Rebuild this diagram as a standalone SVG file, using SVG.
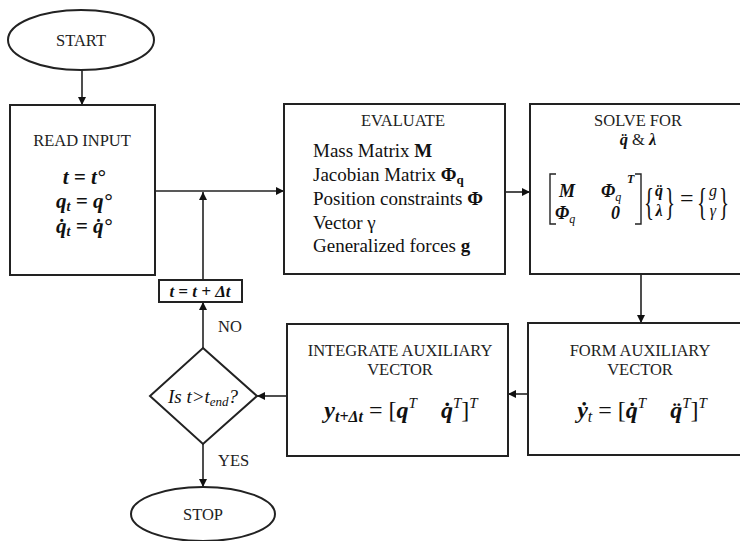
<svg xmlns="http://www.w3.org/2000/svg" width="740" height="541" viewBox="0 0 740 541">
<defs>
<marker id="arr" viewBox="0 0 10 10" refX="10" refY="5" markerWidth="8" markerHeight="8" markerUnits="userSpaceOnUse" orient="auto">
<path d="M0,0 L10,5 L0,10 z" fill="#111"/>
</marker>
</defs>
<style>
.box{fill:#fff;stroke:#222;stroke-width:2}
.lbl{font-family:"Liberation Serif","Times New Roman",serif;font-size:16.5px;fill:#222}
.txt{font-family:"Liberation Serif","Times New Roman",serif;fill:#111}
.m{font-family:"Liberation Serif","Times New Roman",serif;font-weight:bold;font-style:italic;fill:#111}
.conn{stroke:#222;stroke-width:1.6;fill:none;marker-end:url(#arr)}
</style>
<rect width="740" height="541" fill="#fff"/>

<g id="connectors">
<line class="conn" x1="82" y1="70" x2="82" y2="105"/>
<line class="conn" x1="155" y1="191" x2="284" y2="191"/>
<line class="conn" x1="203" y1="280" x2="203" y2="192"/>
<line class="conn" x1="505" y1="192" x2="530" y2="192"/>
<line class="conn" x1="641" y1="274" x2="641" y2="323"/>
<line class="conn" x1="528" y1="394" x2="508" y2="394"/>
<line class="conn" x1="287" y1="396" x2="257" y2="396"/>
<line class="conn" x1="203" y1="348" x2="203" y2="302"/>
<line class="conn" x1="203" y1="444" x2="203" y2="487"/>
<text class="lbl" x="218" y="332">NO</text>
<text class="lbl" x="218" y="466">YES</text>
</g>

<g id="start">
<ellipse class="box" cx="81" cy="40" rx="73" ry="30"/>
<text class="lbl" x="81" y="46" text-anchor="middle">START</text>
</g>

<g id="read-input">
<rect class="box" x="10" y="105" width="145" height="170"/>
<text class="lbl" x="82" y="146" text-anchor="middle">READ INPUT</text>
<text class="m" x="84" y="184" font-size="21" text-anchor="middle">t = t°</text>
<text class="m" x="84" y="208" font-size="21" text-anchor="middle">q<tspan font-size="14" dy="3">t</tspan><tspan dy="-3"> = q°</tspan></text>
<text class="m" x="84" y="233" font-size="21" text-anchor="middle">q̇<tspan font-size="14" dy="3">t</tspan><tspan dy="-3"> = q̇°</tspan></text>
</g>

<g id="time-step">
<rect class="box" x="159" y="280" width="83" height="22" stroke-width="1.6"/>
<text class="m" x="200" y="297" font-size="17" text-anchor="middle">t = t + Δt</text>
</g>

<g id="evaluate">
<rect class="box" x="284" y="104" width="221" height="170"/>
<text class="lbl" x="403" y="126" text-anchor="middle">EVALUATE</text>
<g class="txt" font-size="19">
<text x="313" y="157">Mass Matrix <tspan font-weight="bold">M</tspan></text>
<text x="313" y="181">Jacobian Matrix <tspan font-weight="bold">Φ<tspan font-size="13" dy="3">q</tspan></tspan></text>
<text x="313" y="205">Position constraints <tspan font-weight="bold">Φ</tspan></text>
<text x="313" y="229">Vector γ</text>
<text x="313" y="252">Generalized forces <tspan font-weight="bold">g</tspan></text>
</g>
</g>

<g id="solve">
<rect class="box" x="530" y="104" width="214" height="170"/>
<text class="lbl" x="638" y="126" text-anchor="middle">SOLVE FOR</text>
<text class="lbl" x="638" y="145" text-anchor="middle"><tspan class="m">q̈</tspan> &amp; <tspan class="m">λ</tspan></text>
<path d="M556,174 H550 V224 H556 M635,174 H641 V224 H635" fill="none" stroke="#222" stroke-width="1.4"/>
<text class="m" x="559" y="197" font-size="18">M</text>
<text class="m" x="601" y="197" font-size="18">Φ<tspan font-size="12" dy="4" font-weight="normal">q</tspan></text>
<text class="m" x="627" y="183" font-size="12" font-weight="normal">T</text>
<text class="m" x="555" y="219" font-size="18">Φ<tspan font-size="12" dy="4" font-weight="normal">q</tspan></text>
<text class="m" x="611" y="219" font-size="18" font-style="normal">0</text>
<text class="txt" x="644" y="215" font-size="38" transform="translate(644 0) scale(0.55 1) translate(-644 0)">{</text>
<text class="m" x="659" y="196" font-size="16" text-anchor="middle">q̈</text>
<text class="m" x="659" y="216" font-size="16" text-anchor="middle">λ</text>
<text class="txt" x="665" y="215" font-size="38" transform="translate(665 0) scale(0.55 1) translate(-665 0)">}</text>
<text class="txt" x="680" y="206" font-size="24">=</text>
<text class="txt" x="697" y="215" font-size="38" transform="translate(697 0) scale(0.55 1) translate(-697 0)">{</text>
<text class="txt" x="713" y="196" font-size="16" font-style="italic" text-anchor="middle">g</text>
<text class="txt" x="713" y="216" font-size="16" font-style="italic" text-anchor="middle">γ</text>
<text class="txt" x="719" y="215" font-size="38" transform="translate(719 0) scale(0.55 1) translate(-719 0)">}</text>
</g>

<g id="form-aux">
<rect class="box" x="528" y="323" width="216" height="132"/>
<text class="lbl" x="640" y="356" text-anchor="middle">FORM AUXILIARY</text>
<text class="lbl" x="640" y="375" text-anchor="middle">VECTOR</text>
<text class="m" x="642" y="418" font-size="24" text-anchor="middle">ẏ<tspan font-size="16" dy="4" font-weight="normal">t</tspan><tspan dy="-4" font-style="normal" font-weight="normal"> = [</tspan>q̇<tspan font-size="15" dy="-10" font-weight="normal">T</tspan><tspan dy="10" dx="24">q̈</tspan><tspan font-size="15" dy="-10" font-weight="normal">T</tspan><tspan dy="10" font-style="normal" font-weight="normal">]</tspan><tspan font-size="15" dy="-10" font-weight="normal">T</tspan></text>
</g>

<g id="integrate">
<rect class="box" x="287" y="324" width="221" height="132"/>
<text class="lbl" x="400" y="356" text-anchor="middle">INTEGRATE AUXILIARY</text>
<text class="lbl" x="400" y="375" text-anchor="middle">VECTOR</text>
<text class="m" x="401" y="418" font-size="24" text-anchor="middle">y<tspan font-size="16" dy="4">t+Δt</tspan><tspan dy="-4" font-style="normal" font-weight="normal"> = [</tspan>q<tspan font-size="15" dy="-10" font-weight="normal">T</tspan><tspan dy="10" dx="24">q̇</tspan><tspan font-size="15" dy="-10" font-weight="normal">T</tspan><tspan dy="10" font-style="normal" font-weight="normal">]</tspan><tspan font-size="15" dy="-10" font-weight="normal">T</tspan></text>
</g>

<g id="decision">
<polygon class="box" points="203,348 257,396 203,444 150,396" stroke-width="1.6"/>
<text class="txt" x="203" y="403" font-size="19" font-style="italic" text-anchor="middle">Is t&gt;t<tspan font-size="13" dy="3">end</tspan><tspan dy="-3">?</tspan></text>
</g>

<g id="stop">
<ellipse class="box" cx="203" cy="514" rx="72" ry="27"/>
<text class="lbl" x="203" y="520" text-anchor="middle">STOP</text>
</g>
</svg>
